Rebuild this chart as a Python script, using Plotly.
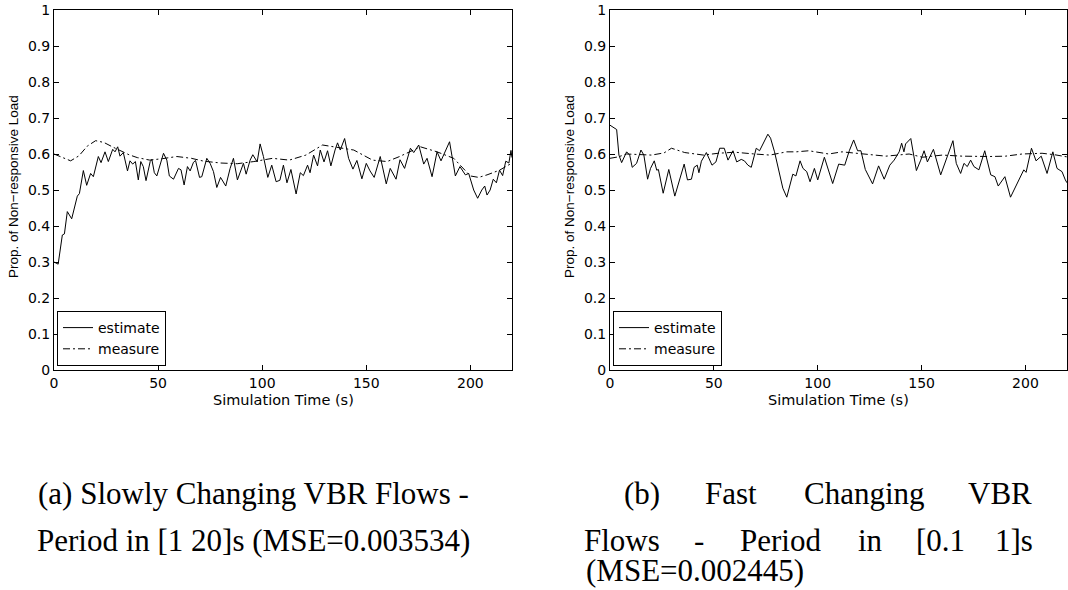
import plotly.graph_objects as go

# ---------------- data ----------------
# (a) slowly changing VBR flows
a_est_t = [0, 2, 4, 5, 6.4, 8.5, 11.2, 12.2, 14.1, 15.7, 17.6, 18.9, 21.3, 22.6, 24.5, 26.1,
           28.2, 29.3, 30.6, 31.7, 33.3, 35.3, 36.5, 37.8, 39.1, 40.5, 41.7, 42.9, 44.2, 46.2,
           47, 48.2, 49.4, 51, 52.6, 54.2, 55.4, 57.4, 59.8, 61, 62.5, 64.1, 65.4, 67, 68,
           69.9, 71, 73.4, 75, 76.6, 78.2, 80, 82.5, 84.6, 86.2, 88.1, 91, 92.3, 94.2, 95.5,
           97.6, 99, 100.6, 102.7, 104.6, 106.7, 108.5, 110.2, 111.9, 113.8, 116.3, 118.3,
           119.8, 121.8, 123, 124.7, 126.6, 127.9, 129.7, 131.4, 133, 135, 136.2, 137.5,
           139.6, 141.5, 143.6, 145.5, 147.9, 150, 151.8, 153.8, 156.7, 159.6, 161.5, 164.3,
           166.2, 168.4, 171.2, 172.8, 175.2, 177.6, 179.2, 181.6, 184, 185.9, 190, 192.8,
           195, 197.6, 199.2, 201.6, 203.5, 205.5, 206.9, 208, 209.5, 211, 212.5, 214, 215.5,
           217, 218.5, 219.5, 220]
a_est_v = [0.30, 0.294, 0.375, 0.378, 0.44, 0.42, 0.483, 0.49, 0.554, 0.513, 0.546, 0.537,
           0.593, 0.576, 0.606, 0.579, 0.613, 0.606, 0.62, 0.594, 0.604, 0.553, 0.581, 0.572,
           0.579, 0.528, 0.579, 0.565, 0.526, 0.579, 0.585, 0.548, 0.539, 0.574, 0.602, 0.583,
           0.539, 0.53, 0.56, 0.556, 0.514, 0.565, 0.553, 0.577, 0.582, 0.535, 0.537, 0.588,
           0.574, 0.551, 0.507, 0.535, 0.511, 0.56, 0.588, 0.528, 0.574, 0.544, 0.583, 0.598,
           0.578, 0.628, 0.593, 0.535, 0.569, 0.523, 0.527, 0.569, 0.52, 0.557, 0.489, 0.548,
           0.54, 0.569, 0.548, 0.597, 0.567, 0.611, 0.578, 0.609, 0.567, 0.611, 0.631, 0.611,
           0.643, 0.588, 0.558, 0.582, 0.531, 0.574, 0.553, 0.535, 0.593, 0.517, 0.56, 0.53,
           0.584, 0.56, 0.616, 0.604, 0.625, 0.572, 0.588, 0.537, 0.606, 0.581, 0.634, 0.539,
           0.565, 0.542, 0.546, 0.50, 0.477, 0.50, 0.511, 0.486, 0.50, 0.53, 0.52, 0.555, 0.54,
           0.58, 0.575, 0.61, 0.59]
a_meas_t = [0, 4, 8, 12, 16, 20, 24, 28, 32, 36, 40, 46, 52, 59, 66, 72, 80, 88, 96, 105,
            113, 121, 129, 134, 144, 153, 160, 166, 176, 184, 192, 200, 204, 208, 214, 220]
a_meas_v = [0.60, 0.59, 0.581, 0.595, 0.622, 0.637, 0.632, 0.62, 0.608, 0.598, 0.59, 0.583,
            0.587, 0.593, 0.588, 0.58, 0.575, 0.573, 0.579, 0.588, 0.583, 0.597, 0.625, 0.62,
            0.611, 0.583, 0.579, 0.593, 0.62, 0.606, 0.588, 0.539, 0.535, 0.542, 0.555, 0.575]

# (b) fast changing VBR flows
b_est_t = [0, 1.1, 3.2, 4.3, 5.6, 8, 9.5, 10.7, 12.8, 14.9, 16.3, 18.1, 19.5, 21.3, 22.5,
           23.3, 25.6, 28.3, 31.2, 35.7, 37.3, 39.2, 40.5, 42, 42.8, 44, 46.4, 49.1, 51,
           52.8, 55, 56.8, 59.2, 61, 63.2, 64.7, 66.4, 68, 70.4, 72, 76, 77.3, 79.2, 83.2,
           85.1, 88, 89.5, 91.5, 92.9, 94.7, 96.3, 98.4, 100, 103.2, 107.2, 110.1, 113,
           115.2, 117.3, 119.2, 120.8, 122.9, 126.4, 129.3, 132, 134.7, 136.8, 139.2, 140.4,
           141.5, 142.3, 144.8, 147.5, 149.6, 151.2, 152.8, 155.7, 159.2, 162.4, 165.1,
           166.7, 168.8, 170.4, 172, 173.6, 175.2, 177.6, 180.4, 183.3, 185.3, 186.9, 190.1,
           192.8, 196, 199.2, 200.3, 202.9, 205.1, 207.6, 210.4, 213.2, 215.2, 217.6, 219.2,
           220]
b_est_v = [0.68, 0.676, 0.668, 0.597, 0.576, 0.606, 0.597, 0.563, 0.574, 0.611, 0.597,
           0.53, 0.56, 0.581, 0.555, 0.557, 0.491, 0.557, 0.483, 0.572, 0.528, 0.53, 0.563,
           0.569, 0.548, 0.58, 0.604, 0.569, 0.578, 0.616, 0.616, 0.583, 0.609, 0.578, 0.585,
           0.581, 0.569, 0.563, 0.616, 0.609, 0.655, 0.644, 0.606, 0.505, 0.48, 0.544, 0.539,
           0.581, 0.56, 0.551, 0.523, 0.56, 0.528, 0.591, 0.518, 0.572, 0.569, 0.609, 0.639,
           0.609, 0.609, 0.557, 0.517, 0.567, 0.53, 0.569, 0.583, 0.606, 0.63, 0.606, 0.628,
           0.643, 0.554, 0.583, 0.609, 0.578, 0.613, 0.542, 0.597, 0.637, 0.574, 0.546, 0.574,
           0.565, 0.583, 0.565, 0.556, 0.609, 0.542, 0.537, 0.511, 0.537, 0.48, 0.518, 0.556,
           0.549, 0.616, 0.581, 0.594, 0.546, 0.606, 0.56, 0.551, 0.528, 0.52]
b_meas_t = [0, 4, 8, 14, 20, 26, 29.6, 36, 45, 52, 60, 69.6, 77, 85, 89.6, 95.7, 105.3,
            111.7, 121.3, 132.8, 144, 150.4, 160, 169.6, 182.4, 190.4, 198.4, 208, 214, 220]
b_meas_v = [0.588, 0.592, 0.60, 0.598, 0.597, 0.603, 0.616, 0.604, 0.597, 0.602, 0.605,
            0.60, 0.597, 0.606, 0.606, 0.609, 0.60, 0.606, 0.60, 0.594, 0.60, 0.591, 0.597,
            0.594, 0.593, 0.594, 0.60, 0.602, 0.598, 0.592]

x_ticks = [0, 50, 100, 150, 200]
y_ticks = [0, 0.1, 0.2, 0.3, 0.4, 0.5, 0.6, 0.7, 0.8, 0.9, 1]
y_tick_text = ["0", "0.1", "0.2", "0.3", "0.4", "0.5", "0.6", "0.7", "0.8", "0.9", "1"]
series_names = ["estimate", "measure"]
x_title = "Simulation Time (s)"
y_title = "Prop. of Non\u2212responsive Load"
caption_a = ["(a) Slowly Changing VBR Flows -", "Period in [1 20]s (MSE=0.003534)"]
caption_b_line1 = ["(b)", "Fast", "Changing", "VBR"]
caption_b_line2 = ["Flows", "-", "Period", "in", "[0.1", "1]s"]
caption_b_line3 = "(MSE=0.002445)"

# ---------------- layout geometry (window pixels) ----------------
W, H = 1068, 590
def px(x):
    return x / W
def py(y):
    return 1 - y / H

SANS = "Liberation Sans, Arial, sans-serif"
WSANS = "DejaVu Sans, sans-serif"
SERIF = "Liberation Serif, Times New Roman, serif"
DASHDOT = "7px,3px,2px,3px"

fig = go.Figure()

panels = [
    ("x", "y", "legend", a_est_t, a_est_v, a_meas_t, a_meas_v),
    ("x2", "y2", "legend2", b_est_t, b_est_v, b_meas_t, b_meas_v),
]
for xa, ya, lg, et, ev, mt, mv in panels:
    fig.add_trace(go.Scatter(x=et, y=ev, mode="lines", name=series_names[0],
                             line=dict(color="black", width=1), xaxis=xa, yaxis=ya,
                             legend=lg))
    fig.add_trace(go.Scatter(x=mt, y=mv, mode="lines", name=series_names[1],
                             line=dict(color="black", width=1, dash=DASHDOT),
                             xaxis=xa, yaxis=ya, legend=lg))

axis_common = dict(
    showgrid=False, zeroline=False, showline=True, linecolor="black", linewidth=1,
    mirror="ticks", ticks="inside", ticklen=5, tickwidth=1, tickcolor="black",
    automargin=False,
    tickfont=dict(family=WSANS, size=14, color="black"),
)

x_domains = [[px(54), px(512)], [px(610), px(1067)]]
y_domain = [py(370), py(10)]

fig.update_layout(
    width=W, height=H, margin=dict(l=0, r=0, t=0, b=0, autoexpand=False),
    paper_bgcolor="white", plot_bgcolor="white", showlegend=True,
    xaxis=dict(domain=x_domains[0], range=[0, 220], tickvals=x_ticks, anchor="y", **axis_common),
    yaxis=dict(domain=y_domain, range=[0, 1], tickvals=y_ticks, ticktext=y_tick_text,
               anchor="x", **axis_common),
    xaxis2=dict(domain=x_domains[1], range=[0, 220], tickvals=x_ticks, anchor="y2", **axis_common),
    yaxis2=dict(domain=y_domain, range=[0, 1], tickvals=y_ticks, ticktext=y_tick_text,
                anchor="x2", **axis_common),
)

legend_common = dict(
    bgcolor="white", bordercolor="black", borderwidth=1,
    font=dict(family=WSANS, size=14, color="black"),
    xanchor="left", yanchor="bottom", itemwidth=30, tracegroupgap=0,
)
fig.update_layout(
    legend=dict(x=px(57), y=py(366), **legend_common),
    legend2=dict(x=px(613), y=py(366), **legend_common),
)

annotations = []
# axis titles
for cx in [(54 + 512) / 2, (610 + 1067) / 2]:
    annotations.append(dict(text=x_title, x=px(cx), y=py(400), xref="paper", yref="paper",
                            xanchor="center", yanchor="middle", showarrow=False,
                            font=dict(family=WSANS, size=14.5, color="black")))
for lx in [13, 569]:
    annotations.append(dict(text=y_title, x=px(lx), y=py(187), xref="paper", yref="paper",
                            xanchor="center", yanchor="middle", showarrow=False, textangle=-90,
                            font=dict(family=SANS, size=13.5, color="black")))

# captions
cap_font = dict(family=SERIF, size=31, color="black")
for line, cy in zip(caption_a, [493, 540]):
    annotations.append(dict(text=line, x=px(253), y=py(cy), xref="paper", yref="paper",
                            xanchor="center", yanchor="middle", showarrow=False, font=cap_font))
for word, cx in zip(caption_b_line1, [642, 731, 864, 1000]):
    annotations.append(dict(text=word, x=px(cx), y=py(493), xref="paper", yref="paper",
                            xanchor="center", yanchor="middle", showarrow=False, font=cap_font))
for word, cx in zip(caption_b_line2, [622, 699, 780, 870, 940, 1014]):
    annotations.append(dict(text=word, x=px(cx), y=py(540), xref="paper", yref="paper",
                            xanchor="center", yanchor="middle", showarrow=False, font=cap_font))
annotations.append(dict(text=caption_b_line3, x=px(584), y=py(570), xref="paper", yref="paper",
                        xanchor="left", yanchor="middle", showarrow=False, font=cap_font))
fig.update_layout(annotations=annotations)

fig.write_html("out.html")
